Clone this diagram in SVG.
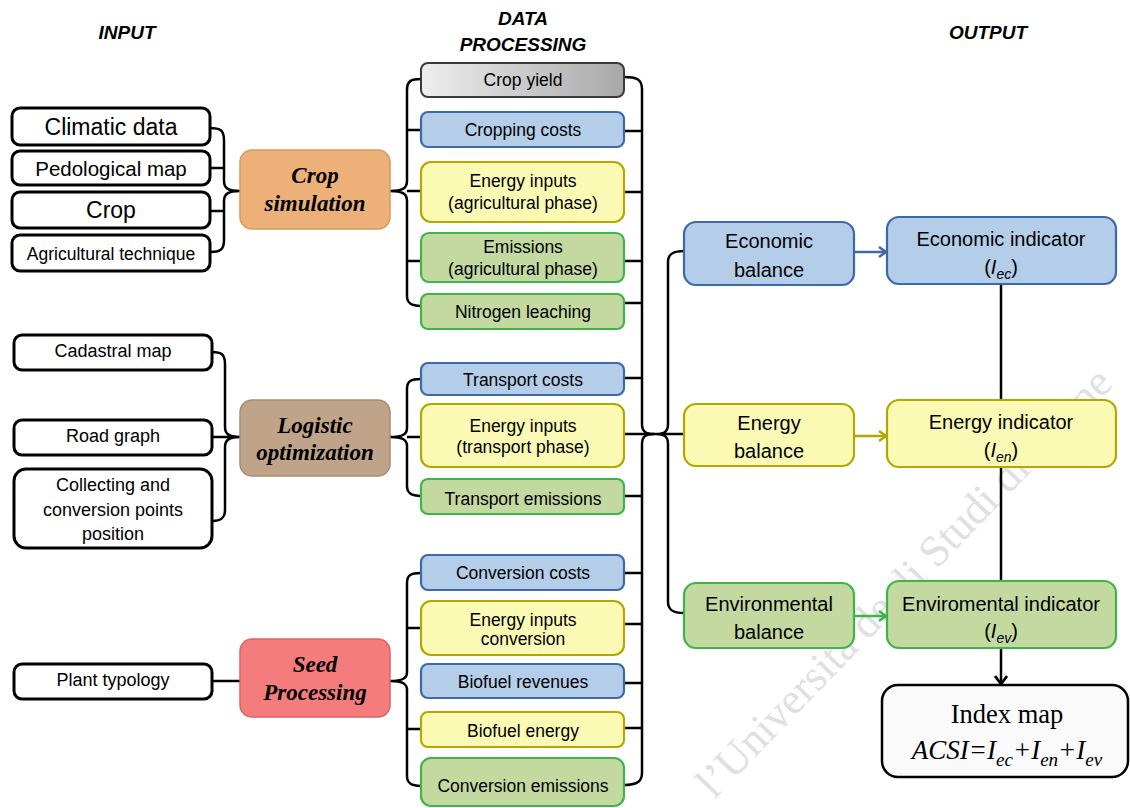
<svg xmlns="http://www.w3.org/2000/svg" width="1130" height="808" viewBox="0 0 1130 808">
<style>
.in{fill:#fff;stroke:#000;stroke-width:3}
.t{font-family:"Liberation Sans",Arial,sans-serif;fill:#000;text-anchor:middle}
.dp{font-size:17.5px}
.ob{font-size:20px}
.blue{fill:#B4CDE9;stroke:#3D69AA;stroke-width:2.2}
.yel{fill:#FBFAB5;stroke:#B3A700;stroke-width:2.2}
.grn{fill:#C3D9A0;stroke:#3DB54A;stroke-width:2.2}
.hd{font-family:"Liberation Sans",Arial,sans-serif;font-weight:bold;font-style:italic;font-size:19px;text-anchor:middle}
.proc{font-family:"Liberation Serif","Times New Roman",serif;font-weight:bold;font-style:italic;font-size:23px;text-anchor:middle;fill:#000}
.con{fill:none;stroke:#000;stroke-width:2.5}
.sub{font-style:italic;font-size:14px}
</style>
<defs>
<linearGradient id="gy" x1="0" y1="0" x2="1" y2="0">
<stop offset="0" stop-color="#eeeeee"/><stop offset="1" stop-color="#a8a8a8"/>
</linearGradient>
<marker id="ab" markerWidth="12" markerHeight="12" refX="9" refY="6" orient="auto" markerUnits="userSpaceOnUse"><path d="M2,1 L9,6 L2,11" fill="none" stroke="#3D69AA" stroke-width="2.5"/></marker>
<marker id="ay" markerWidth="12" markerHeight="12" refX="9" refY="6" orient="auto" markerUnits="userSpaceOnUse"><path d="M2,1 L9,6 L2,11" fill="none" stroke="#B3A700" stroke-width="2.5"/></marker>
<marker id="ag" markerWidth="12" markerHeight="12" refX="9" refY="6" orient="auto" markerUnits="userSpaceOnUse"><path d="M2,1 L9,6 L2,11" fill="none" stroke="#3DB54A" stroke-width="2.5"/></marker>
<marker id="ak" markerWidth="14" markerHeight="14" refX="10" refY="7" orient="auto" markerUnits="userSpaceOnUse"><path d="M2,1 L10,7 L2,13" fill="none" stroke="#000" stroke-width="2.8"/></marker>
</defs>
<rect width="1130" height="808" fill="#fff"/>

<text x="714" y="800" transform="rotate(-46 714 800)" font-family="'Liberation Serif','Times New Roman',serif" font-size="44" fill="#e0e0e0">l’Università degli Studi di Udine</text>

<g id="headers">
<text class="hd" x="127" y="39">INPUT</text>
<text class="hd" x="523" y="25">DATA</text>
<text class="hd" x="523" y="51">PROCESSING</text>
<text class="hd" x="988" y="39">OUTPUT</text>
</g>

<g id="connectors">
<path class="con" d="M210,128 C220,128 224,130 224,140 V181 C224,188 228,191 240,191 C228,191 224,194 224,201 V240 C224,250 220,252 210,252 M210,168 H224 M210,211 H224"/>
<path class="con" d="M212,352 C221,352 225,354 225,364 V427 C225,434 229,437 240,437 C229,437 225,440 225,447 V510 C225,518 221,521 212,521 M212,437 H240"/>
<path class="con" d="M212,681 H240"/>
<path class="con" d="M421,79 C411,79 407,81 407,90 V181 C407,188 403,191 390,191 C403,191 407,194 407,201 V296 C407,303 411,306 421,306 M407,130 H421 M407,191 H421 M407,261 H421"/>
<path class="con" d="M421,379 C411,379 407,381 407,389 V428 C407,434 403,437 390,437 C403,437 407,440 407,446 V486 C407,493 411,496 421,496 M407,437 H421"/>
<path class="con" d="M421,573 C411,573 407,575 407,583 V672 C407,678 403,681 390,681 C403,681 407,684 407,690 V776 C407,783 411,786 421,786 M407,628 H421 M407,729 H421"/>
<path class="con" d="M624,77 C636,77 642,79 642,89 V424 C642,431 645,434 654,434 C645,434 642,437 642,444 V773 C642,782 636,785 624,785 M624,131 H642 M624,192 H642 M624,261 H642 M624,303 H642 M624,378 H642 M624,496 H642 M624,573 H642 M624,624 H642 M624,683 H642 M624,728 H642"/>
<path class="con" d="M684,251 C673,251 668,254 668,262 V424 C668,431 665,434 656,434 C665,434 668,437 668,444 V602 C668,610 673,613 684,613 M624,434 H684"/>
<path d="M854,252 H886" fill="none" stroke="#3D69AA" stroke-width="2.5" marker-end="url(#ab)"/>
<path d="M854,436 H886" fill="none" stroke="#B3A700" stroke-width="2.5" marker-end="url(#ay)"/>
<path d="M854,616 H886" fill="none" stroke="#3DB54A" stroke-width="2.5" marker-end="url(#ag)"/>
<path class="con" d="M1001,284 V400 M1001,467 V581"/>
<path class="con" d="M1001,648 V684" marker-end="url(#ak)"/>
</g>

<g id="in-climatic"><rect class="in" x="12" y="108" width="198" height="37" rx="8"/><text class="t" x="111" y="135" font-size="23">Climatic data</text></g>
<g id="in-pedological"><rect class="in" x="12" y="151" width="198" height="34" rx="8"/><text class="t" x="111" y="176" font-size="20.5">Pedological map</text></g>
<g id="in-crop"><rect class="in" x="12" y="192" width="198" height="36" rx="8"/><text class="t" x="111" y="218" font-size="23">Crop</text></g>
<g id="in-agri"><rect class="in" x="12" y="235" width="198" height="36" rx="8"/><text class="t" x="111" y="260" font-size="17.5">Agricultural technique</text></g>

<g id="in-cadastral"><rect class="in" x="14" y="335" width="198" height="35" rx="8"/><text class="t" x="113" y="357" font-size="18">Cadastral map</text></g>
<g id="in-road"><rect class="in" x="14" y="420" width="198" height="35" rx="8"/><text class="t" x="113" y="442" font-size="18">Road graph</text></g>
<g id="in-collecting"><rect class="in" x="14" y="469" width="198" height="79" rx="12"/><text class="t" x="113" y="491" font-size="18">Collecting and</text><text class="t" x="113" y="516" font-size="18">conversion points</text><text class="t" x="113" y="540" font-size="18">position</text></g>
<g id="in-plant"><rect class="in" x="14" y="664" width="198" height="35" rx="8"/><text class="t" x="113" y="686" font-size="18">Plant typology</text></g>

<g id="crop-simulation"><rect x="240" y="150" width="150" height="79" rx="12" fill="#EDB079" stroke="#D49A5E" stroke-width="1.5"/><text class="proc" x="315" y="183">Crop</text><text class="proc" x="315" y="211">simulation</text></g>
<g id="logistic-optimization"><rect x="240" y="400" width="150" height="76" rx="12" fill="#BFA48A" stroke="#A68D72" stroke-width="1.5"/><text class="proc" x="315" y="433">Logistic</text><text class="proc" x="315" y="460">optimization</text></g>
<g id="seed-processing"><rect x="240" y="639" width="150" height="78" rx="12" fill="#F47C7C" stroke="#D86464" stroke-width="1.5"/><text class="proc" x="315" y="672">Seed</text><text class="proc" x="315" y="700">Processing</text></g>

<g id="dp-crop-yield"><rect x="421" y="63" width="203" height="34" rx="7" fill="url(#gy)" stroke="#3a3a3a" stroke-width="2"/><text class="t dp" x="523" y="86">Crop yield</text></g>
<g id="dp-cropping-costs"><rect class="blue" x="421" y="112" width="203" height="35" rx="7"/><text class="t dp" x="523" y="136">Cropping costs</text></g>
<g id="dp-energy-agri"><rect class="yel" x="421" y="162" width="203" height="60" rx="10"/><text class="t dp" x="523" y="187">Energy inputs</text><text class="t dp" x="523" y="209">(agricultural phase)</text></g>
<g id="dp-emissions-agri"><rect class="grn" x="421" y="233" width="203" height="49" rx="8"/><text class="t dp" x="523" y="253">Emissions</text><text class="t dp" x="523" y="275">(agricultural phase)</text></g>
<g id="dp-nitrogen"><rect class="grn" x="421" y="294" width="203" height="35" rx="7"/><text class="t dp" x="523" y="318">Nitrogen leaching</text></g>
<g id="dp-transport-costs"><rect class="blue" x="421" y="363" width="203" height="32" rx="7"/><text class="t dp" x="523" y="386">Transport costs</text></g>
<g id="dp-energy-transport"><rect class="yel" x="421" y="404" width="203" height="63" rx="10"/><text class="t dp" x="523" y="432">Energy inputs</text><text class="t dp" x="523" y="453">(transport phase)</text></g>
<g id="dp-transport-emissions"><rect class="grn" x="421" y="479" width="203" height="35" rx="7"/><text class="t dp" x="523" y="505">Transport emissions</text></g>
<g id="dp-conversion-costs"><rect class="blue" x="421" y="555" width="203" height="35" rx="7"/><text class="t dp" x="523" y="579">Conversion costs</text></g>
<g id="dp-energy-conversion"><rect class="yel" x="421" y="601" width="203" height="54" rx="10"/><text class="t dp" x="523" y="626">Energy inputs</text><text class="t dp" x="523" y="645">conversion</text></g>
<g id="dp-biofuel-revenues"><rect class="blue" x="421" y="664" width="203" height="34" rx="7"/><text class="t dp" x="523" y="688">Biofuel revenues</text></g>
<g id="dp-biofuel-energy"><rect class="yel" x="421" y="712" width="203" height="35" rx="7"/><text class="t dp" x="523" y="737">Biofuel energy</text></g>
<g id="dp-conversion-emissions"><rect class="grn" x="421" y="758" width="203" height="48" rx="10"/><text class="t dp" x="523" y="792">Conversion emissions</text></g>

<g id="economic-balance"><rect class="blue" x="684" y="222" width="170" height="63" rx="12" stroke-width="2.5"/><text class="t ob" x="769" y="248">Economic</text><text class="t ob" x="769" y="277">balance</text></g>
<g id="economic-indicator"><rect class="blue" x="887" y="217" width="229" height="67" rx="12" stroke-width="2.5"/><text class="t ob" x="1001" y="246">Economic indicator</text><text class="t ob" x="1001" y="274">(<tspan font-style="italic">I</tspan><tspan class="sub" dy="5">ec</tspan><tspan dy="-5">)</tspan></text></g>
<g id="energy-balance"><rect class="yel" x="684" y="404" width="170" height="62" rx="12" stroke-width="2.5"/><text class="t ob" x="769" y="430">Energy</text><text class="t ob" x="769" y="458">balance</text></g>
<g id="energy-indicator"><rect class="yel" x="887" y="400" width="229" height="67" rx="12" stroke-width="2.5"/><text class="t ob" x="1001" y="429">Energy indicator</text><text class="t ob" x="1001" y="457">(<tspan font-style="italic">I</tspan><tspan class="sub" dy="5">en</tspan><tspan dy="-5">)</tspan></text></g>
<g id="environmental-balance"><rect class="grn" x="684" y="583" width="170" height="65" rx="12" stroke-width="2.5"/><text class="t ob" x="769" y="611">Environmental</text><text class="t ob" x="769" y="639">balance</text></g>
<g id="environmental-indicator"><rect class="grn" x="887" y="581" width="229" height="67" rx="12" stroke-width="2.5"/><text class="t ob" x="1001" y="611">Enviromental indicator</text><text class="t ob" x="1001" y="638">(<tspan font-style="italic">I</tspan><tspan class="sub" dy="5">ev</tspan><tspan dy="-5">)</tspan></text></g>
<g id="index-map"><rect x="882" y="685" width="246" height="92" rx="16" fill="#fafafa" stroke="#000" stroke-width="2.5"/><text x="1007" y="723" font-family="'Liberation Serif','Times New Roman',serif" font-size="26.5" text-anchor="middle">Index map</text><text x="1007" y="759" font-family="'Liberation Serif','Times New Roman',serif" font-style="italic" font-size="27" text-anchor="middle">ACSI=I<tspan font-size="19" dy="7">ec</tspan><tspan dy="-7">+I</tspan><tspan font-size="19" dy="7">en</tspan><tspan dy="-7">+I</tspan><tspan font-size="19" dy="7">ev</tspan></text></g>
</svg>
